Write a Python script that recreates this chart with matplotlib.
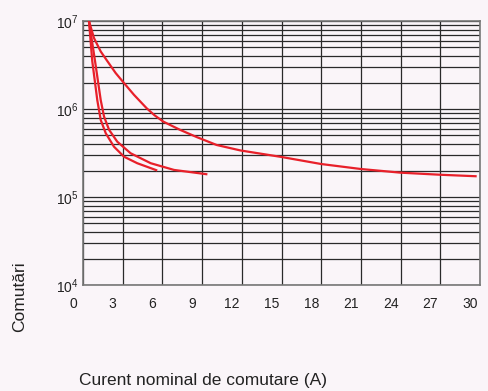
import numpy as np
import matplotlib.pyplot as plt
import matplotlib.transforms as mtransforms
from matplotlib.ticker import LogLocator, NullFormatter

plt.rcParams['font.family'] = ['Liberation Sans', 'DejaVu Sans']
plt.rcParams['mathtext.fontset'] = 'custom'
plt.rcParams['mathtext.rm'] = 'Liberation Sans'
plt.rcParams['mathtext.it'] = 'Liberation Sans'

# curves (x in A, y in switching cycles)
x_outer = [0.45, 0.83, 1.34, 1.84, 2.47, 3.10, 3.85, 4.81, 5.4, 6.06, 7.33, 8.59,
           10.1, 11.9, 15.0, 18.0, 21.0, 24.0, 27.0, 29.75]
y_outer = [1e7, 6.4e6, 4.5e6, 3.5e6, 2.56e6, 1.97e6, 1.45e6, 1.02e6, 8.5e5, 7.2e5, 5.8e5, 4.8e5,
           3.9e5, 3.38e5, 2.85e5, 2.37e5, 2.08e5, 1.89e5, 1.79e5, 1.72e5]

x_mid = [0.45, 0.91, 1.34, 1.59, 1.97, 2.59, 3.60, 5.12, 6.88, 9.4]
y_mid = [1e7, 3.5e6, 1.26e6, 8.2e5, 5.8e5, 4.25e5, 3.14e5, 2.42e5, 2.03e5, 1.81e5]

x_inner = [0.45, 0.70, 1.08, 1.34, 1.72, 2.34, 3.10, 4.10, 5.61]
y_inner = [1e7, 3.5e6, 1.26e6, 7.5e5, 5.3e5, 3.73e5, 2.87e5, 2.42e5, 2.0e5]

xticks = np.arange(0, 31, 3)
bg = '#faf5f9'
red = '#e8202a'

fig = plt.figure(figsize=(4.89, 3.91), dpi=100, facecolor=bg)
ax = fig.add_axes([83/489, 1 - 285/391, 397/489, 264/391])
ax.set_facecolor(bg)

for x, y in [(x_outer, y_outer), (x_mid, y_mid), (x_inner, y_inner)]:
    ax.plot(x, y, color=red, lw=1.6, solid_capstyle='butt', solid_joinstyle='round', zorder=3)

ax.set_yscale('log')
ax.set_xlim(0, 30)
ax.set_ylim(1e4, 1e7)
ax.set_xticks(xticks)
ax.set_xticklabels([str(t) for t in xticks])
ax.yaxis.set_minor_locator(LogLocator(base=10, subs=np.arange(2, 10), numticks=20))
ax.yaxis.set_minor_formatter(NullFormatter())
ax.set_yticks([1e4, 1e5, 1e6, 1e7])
ax.set_yticklabels([r'$10^{4}$', r'$10^{5}$', r'$10^{6}$', r'$10^{7}$'])

ax.grid(True, which='major', color='#2a2a2a', lw=0.9)
ax.grid(True, which='minor', axis='y', color='#2a2a2a', lw=0.9)
ax.tick_params(which='both', length=0, labelsize=10, colors='#222222')
ax.tick_params(axis='x', pad=9)
ax.tick_params(axis='y', pad=3)
for s in ax.spines.values():
    s.set_color('#777777')
    s.set_linewidth(1.2)

shift = mtransforms.ScaledTranslation(-0.10, 0, fig.dpi_scale_trans)
for lab in ax.get_xticklabels():
    lab.set_transform(lab.get_transform() + shift)

fig.text(20/489, 1 - 297/391, 'Comutări', rotation=90, ha='center', va='center',
         fontsize=12.5, color='#222222')
fig.text(203/489, 1 - 380/391, 'Curent nominal de comutare (A)', ha='center', va='center',
         fontsize=12.5, color='#222222')

fig.savefig('out.png', dpi=100, facecolor=bg)
